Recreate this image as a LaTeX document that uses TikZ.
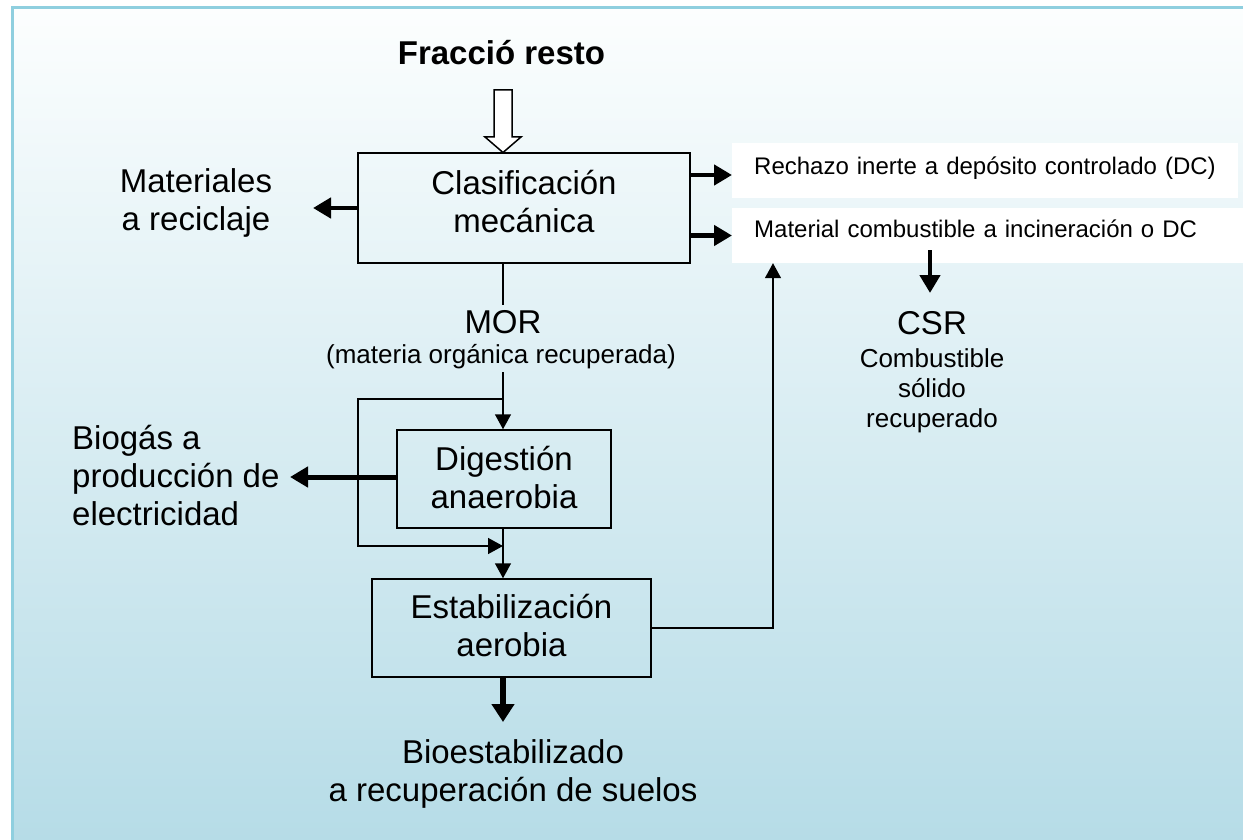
\documentclass[tikz,border=0pt]{standalone}
\usepackage{fontspec}
\setmainfont{Liberation Sans}
\usetikzlibrary{arrows.meta}
\definecolor{bgtop}{HTML}{FCFEFE}
\definecolor{bgbot}{HTML}{B6DCE7}
\definecolor{framecol}{HTML}{8FCFDF}
\begin{document}
\begin{tikzpicture}[x=1pt,y=-1pt,
  procbox/.style={draw=black, line width=1.5pt, inner sep=0pt, align=center, font=\fontsize{33}{38}\selectfont},
  big/.style={font=\fontsize{33}{38}\selectfont, inner sep=0pt, align=center},
  bigb/.style={font=\fontsize{33}{38}\selectfont\bfseries, inner sep=0pt, align=center},
  mid/.style={font=\fontsize{26}{30}\selectfont, inner sep=0pt, align=center},
  lbl/.style={font=\fontsize{24}{28}\selectfont, fill=white, inner ysep=0pt, inner xsep=22pt, align=left},
  thinarr/.style={line width=1.5pt, -{Triangle[length=15pt,width=16pt]}},
  thickarr/.style={line width=4.5pt, -{Triangle[length=18pt,width=20pt]}}
]
\useasboundingbox (0,0) rectangle (1243,840);
\fill[white] (0,0) rectangle (1243,840);
\shade[top color=bgtop, bottom color=bgbot] (12.5,7.5) rectangle (1243,840);
\draw[framecol, line width=3pt] (12.5,840) -- (12.5,7.5) -- (1243,7.5);

% title and hollow input arrow
\node[bigb, anchor=base] (title) at (501.5,65) {Fracció resto};
\node[procbox, minimum width=332, minimum height=110] (cm) at (524,208) {Clasificación\\mecánica\rule[-14pt]{0pt}{14pt}};
\draw[line width=1.5pt, fill=white] (494,90) -- (512,90) -- (512,137) -- (521,137) -- (503,152.5) -- (485,137) -- (494,137) -- cycle;

% right labels
\node[lbl, anchor=base west, text width=462, text height=32, text depth=23] (rech) at (732,175) {Rechazo inerte a depósito controlado (DC)};
\node[lbl, anchor=base west, text width=480, text height=29, text depth=26] (mat) at (732,237) {Material combustible a incineración o DC};
\draw[thickarr] (cm.east |- rech.base) -- (rech.west |- rech.base);
\draw[thickarr] (cm.east |- mat.west) -- (mat.west);

% CSR
\node[big, anchor=base] (csr) at (932,334) {CSR};
\node[mid, anchor=base] (csrtxt) at (932,427) {Combustible\\sólido\\recuperado};
\coordinate (csrin) at (930,250);
\coordinate (csrtip) at (930,293);
\draw[thickarr] (csrin) -- (csrtip);

% left: materiales
\node[big, anchor=base] (rec) at (196,230) {Materiales\\a reciclaje};
\coordinate (rectip) at (313,208);
\draw[thickarr] (cm.west) -- (rectip);

% MOR
\node[big, anchor=base] (mor) at (503,333) {MOR};
\node[mid, anchor=base] (morsub) at (501,363) {(materia orgánica recuperada)};
\coordinate (m1) at (503,305);
\coordinate (m2) at (503,372);
\coordinate (split) at (503,399);
\coordinate (lpA) at (358,399);
\coordinate (lpB) at (358,546);
\coordinate (lpC) at (503,546);

\node[procbox, minimum width=214, minimum height=98] (da) at (504,479) {Digestión\\anaerobia\rule[-4pt]{0pt}{4pt}};
\node[procbox, minimum width=279, minimum height=98] (ea) at (511.5,628) {Estabilización\\aerobia\rule[-6pt]{0pt}{6pt}};

\draw[line width=1.5pt] (cm.south -| m1) -- (m1);
\draw[thinarr] (m2) -- (da.north -| m2);
\draw[thinarr] (split) -- (lpA) -- (lpB) -- (lpC);
\draw[thinarr] (da.south -| split) -- (ea.north -| split);

% biogas
\node[big, anchor=base west, align=left] (bio) at (72,525) {Biogás a\\producción de\\electricidad};
\coordinate (biotip) at (290,477);
\draw[thickarr, line width=5pt] (da.west |- biotip) -- (biotip);

% estabilizacion -> material combustible
\coordinate (riser) at (773,0);
\draw[thinarr] (ea.east) -| (riser |- mat.south);

% bioestabilizado
\node[big, anchor=base] (bioe) at (513,801) {Bioestabilizado\\a recuperación de suelos};
\coordinate (bioetip) at (503,722);
\draw[thickarr, line width=6pt, -{Triangle[length=18pt,width=22pt]}] (ea.south -| bioetip) -- (bioetip);
\end{tikzpicture}
\end{document}
